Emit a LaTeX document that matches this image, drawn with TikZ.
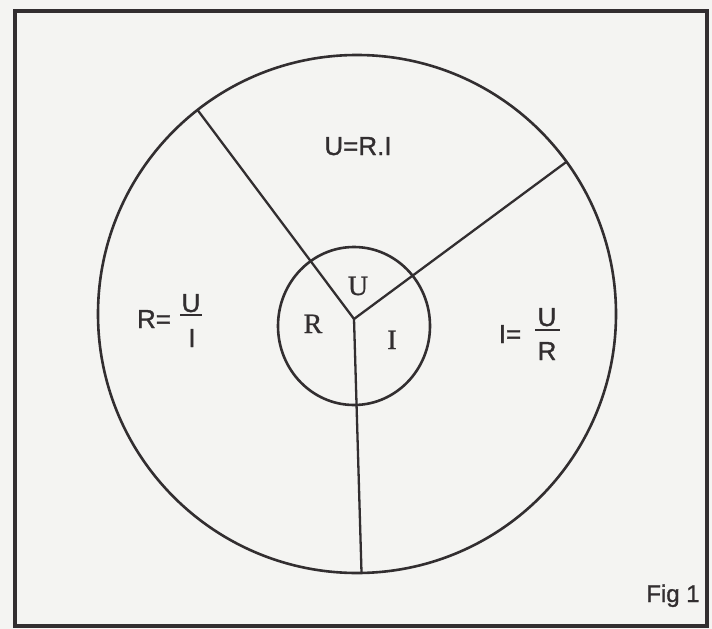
\documentclass[tikz,border=0pt]{standalone}
\usepackage{fontspec}
\setmainfont{Liberation Serif}
\setsansfont{Liberation Sans}
\newfontfamily\heavysans[FakeBold=1.2]{Liberation Sans}
\newfontfamily\heavyserif[FakeBold=0.8]{Liberation Serif}
\usetikzlibrary{shapes.geometric}
\definecolor{ink}{RGB}{50,46,48}
\definecolor{paper}{RGB}{244,244,242}
\begin{document}
\begin{tikzpicture}[x=1pt,y=-1pt,
  ring/.style={draw=ink,line width=2.6pt,inner sep=0pt,outer sep=0pt},
  spoke/.style={draw=ink,line width=2.3pt},
  fracbar/.style={draw=ink,line width=1.6pt},
  sanslbl/.style={text=ink,font=\heavysans\fontsize{26}{26}\selectfont,inner sep=0pt,anchor=base},
  seriflbl/.style={text=ink,font=\heavyserif\fontsize{28}{28}\selectfont,inner sep=0pt,anchor=base},
  figlbl/.style={text=ink,font=\heavysans\fontsize{24}{24}\selectfont,inner sep=0pt,anchor=base},
]
\fill[paper] (0,0) rectangle (712,629);
\useasboundingbox (0,0) rectangle (712,629);
% frame
\draw[draw=ink,line width=3.4pt] (15,11) rectangle (707,626);
% circles
\node[circle,ring,minimum size=518pt] (outer) at (357,314) {};
\node[ellipse,ring,minimum width=152pt,minimum height=158pt] (inner) at (354,326) {};
% spokes
\coordinate (hub) at (354,319);
\draw[spoke] (hub) -- (outer.128.9);
\draw[spoke] (hub) -- (outer.36.3);
\draw[spoke] (hub) -- (outer.-89.8);
% inner letters
\node[seriflbl] (iu) at (358,295) {U};
\node[seriflbl] (ir) at (313,333) {R};
\node[seriflbl] (ii) at (392,349) {I};
% formulas
\node[sanslbl] (urif) at (358,155) {U=R.I};
\node[sanslbl] (req) at (154,328) {R=};
\node[sanslbl] (rnum) at (191,312) {U};
\coordinate (rbarL) at (180,315);
\coordinate (rbarR) at (202,315);
\draw[fracbar] (rbarL) -- (rbarR);
\node[sanslbl] (rden) at (192,347) {I};
\node[sanslbl] (ieq) at (510,343) {I=};
\node[sanslbl] (inum) at (547,326) {U};
\coordinate (ibarL) at (535,330);
\coordinate (ibarR) at (560,330);
\draw[fracbar] (ibarL) -- (ibarR);
\node[sanslbl] (iden) at (547,360) {R};
% caption
\node[figlbl] (fig) at (673,602) {Fig 1};
\end{tikzpicture}
\end{document}
